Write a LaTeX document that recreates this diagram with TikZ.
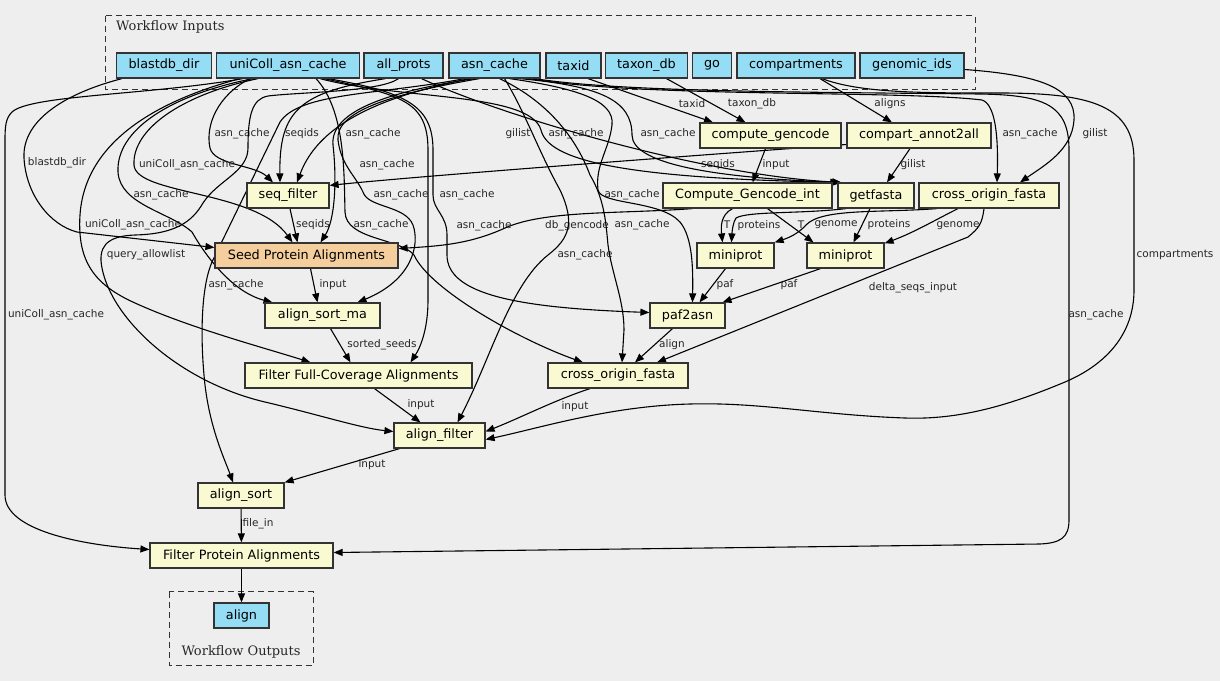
\documentclass[tikz,border=0pt]{standalone}
\usepackage{fontspec}
\setmainfont{DejaVu Sans}
\newfontfamily\titrefont{DejaVu Serif}
\usepackage{xcolor}
\usetikzlibrary{arrows.meta}
\definecolor{fond}{HTML}{EEEEEE}
\definecolor{bord}{HTML}{333333}
\definecolor{bleuEntree}{HTML}{94DDF4}
\definecolor{jauneEtape}{HTML}{FAFAD2}
\definecolor{orangeGraine}{HTML}{F4CE9C}
\pgfdeclarelayer{arriere}
\pgfsetlayers{arriere,main}
\tikzset{
Boite/.style={
 draw=bord,
 line width=1.2pt,
 minimum height=25pt,
 inner sep=2pt,
 font=\fontsize{12.8}{15}\selectfont
 },
Entree/.style={Boite, fill=bleuEntree, minimum width=#1},
Etape/.style={Boite, fill=jauneEtape, minimum width=#1},
Graine/.style={Boite, fill=orangeGraine, minimum width=#1},
Fleche/.style={
 draw=black,
 line width=1.1pt,
 -{Triangle[length=9pt,width=7pt]}
 },
Etiq/.style={
 font=\fontsize{10.5}{12}\selectfont,
 text=black!85,
 inner sep=0pt
 },
Cadre/.style={
 draw=bord,
 line width=1pt,
 dash pattern=on 6pt off 4pt
 },
Titre/.style={font=\titrefont\fontsize{13}{15}\selectfont, text=black!85, inner sep=0pt}
}

\begin{document}
\begin{tikzpicture}[x=1pt,y=-1pt]
\useasboundingbox (0,0) rectangle (1220,681);
\node[Entree=95pt] (blastdb) at (164,65.5) {blastdb\_dir};
\node[Entree=143pt] (unicoll) at (288,65.5) {uniColl\_asn\_cache};
\node[Entree=79pt] (allprots) at (403.5,65.5) {all\_prots};
\node[Entree=91pt] (asncache) at (494.5,65.5) {asn\_cache};
\node[Entree=55pt] (taxid) at (573.5,65.5) {taxid};
\node[Entree=82pt] (taxondb) at (646.5,65.5) {taxon\_db};
\node[Entree=39pt] (go) at (712,65.5) {go};
\node[Entree=118pt] (compartments) at (796,65.5) {compartments};
\node[Entree=104pt] (genomicids) at (912,65.5) {genomic\_ids};
\node[Etape=141pt] (compgencode) at (770.5,135.5) {compute\_gencode};
\node[Etape=144pt] (compart) at (919,135.5) {compart\_annot2all};
\node[Etape=82pt] (seqfilter) at (288,195.5) {seq\_filter};
\node[Etape=169pt] (gencodeint) at (747.5,195.5) {Compute\_Gencode\_int};
\node[Etape=76pt] (getfasta) at (876,195.5) {getfasta};
\node[Etape=140pt] (crossA) at (989,195.5) {cross\_origin\_fasta};
\node[Graine=183pt] (seed) at (306.5,255.5) {Seed Protein Alignments};
\node[Etape=77pt] (miniA) at (735.5,255.5) {miniprot};
\node[Etape=77pt] (miniB) at (845.5,255.5) {miniprot};
\node[Etape=115pt] (sortma) at (322.5,315.5) {align\_sort\_ma};
\node[Etape=75pt] (paf2asn) at (687.5,315.5) {paf2asn};
\node[Etape=227pt] (fullcov) at (358.5,375.5) {Filter Full-Coverage Alignments};
\node[Etape=140pt] (crossB) at (618,375.5) {cross\_origin\_fasta};
\node[Etape=91pt] (alignfilter) at (439.5,435.5) {align\_filter};
\node[Etape=86pt] (alignsort) at (241,495.5) {align\_sort};
\node[Etape=183pt] (filterprot) at (241.5,555.5) {Filter Protein Alignments};
\node[Entree=55pt] (align) at (241.5,615.5) {align};
\begin{pgfonlayer}{arriere}
\fill[fond] (0,0) rectangle (1220,681);
\draw[Cadre] (105,15.5) rectangle (975,89);
\node[Titre, anchor=west] (titreEntrees) at (116,27) {Workflow Inputs};
\draw[Cadre] (169,591.5) rectangle (313,665);
\node[Titre] (titreSorties) at (241,652) {Workflow Outputs};
\draw[Fleche] ([xshift=14.5pt]taxid.south) -- ([xshift=-57.5pt]compgencode.north) node[Etiq, at={(692,104)}] {taxid};
\draw[Fleche] ([xshift=20pt]taxondb.south) -- ([xshift=-25pt]compgencode.north) node[Etiq, at={(752,104)}] {taxon\_db};
\draw[Fleche] ([xshift=24pt]compartments.south) -- ([xshift=-27pt]compart.north) node[Etiq, at={(890,104)}] {aligns};
\draw[Fleche] ([xshift=-38pt]unicoll.south) .. controls (218,95) and (205,125) .. (210,148) .. controls (214,165) and (255,165) .. ([xshift=-15pt]seqfilter.north) node[Etiq, at={(242,134)}] {asn\_cache};
\draw[Fleche] ([xshift=-18pt]allprots.south) .. controls (300,92) and (279,110) .. ([xshift=-8pt]seqfilter.north) node[Etiq, at={(302,134)}] {seqids};
\draw[Fleche] ([xshift=-25pt]asncache.south) .. controls (390,95) and (320,120) .. ([xshift=9pt]seqfilter.north) node[Etiq, at={(373,134)}] {asn\_cache};
\draw[Fleche] ([yshift=-9pt]compart.west) .. controls (700,155) and (420,176) .. ([yshift=-3pt]seqfilter.north east) node[Etiq, at={(718,165)}] {seqids};
\draw[Fleche] ([xshift=-42pt]blastdb.south) .. controls (70,92) and (22,118) .. (24,158) .. controls (26,195) and (50,225) .. (77,232) -- ([yshift=8pt]seed.west) node[Etiq, at={(57,163)}] {blastdb\_dir};
\draw[Fleche] ([xshift=-30pt]unicoll.south) .. controls (180,95) and (132,130) .. (134,165) .. controls (136,195) and (255,190) .. ([xshift=-14pt]seed.north) node[Etiq, at={(187,165)}] {uniColl\_asn\_cache};
\draw[Fleche] ([xshift=2pt]seqfilter.south) -- ([xshift=-9pt]seed.north) node[Etiq, at={(313,225)}] {seqids};
\draw[Fleche] ([xshift=-20pt]asncache.south) .. controls (385,92) and (330,112) .. (333,145) .. controls (337,180) and (335,220) .. ([xshift=14pt]seed.north) node[Etiq, at={(387,165)}] {asn\_cache};
\draw[Fleche] ([xshift=-55pt]gencodeint.south) .. controls (620,214) and (545,210) .. (505,228) .. controls (470,244) and (440,246) .. ([yshift=7pt]seed.east) node[Etiq, at={(577,226)}] {db\_gencode};
\draw[Fleche] ([xshift=-5pt]compgencode.south) -- ([xshift=5pt]gencodeint.north) node[Etiq, at={(776,165)}] {input};
\draw[Fleche] ([xshift=-9pt]compart.south) -- ([xshift=11pt]getfasta.north) node[Etiq, at={(913,165)}] {gilist};
\draw[Fleche] ([xshift=18pt]allprots.south) .. controls (500,115) and (700,175) .. ([xshift=4pt]getfasta.north west) node[Etiq, at={(518,134)}] {gilist};
\draw[Fleche] ([xshift=32pt]unicoll.south) .. controls (400,100) and (530,92) .. (541,130) .. controls (548,160) and (620,178) .. ([xshift=2pt]getfasta.north west) node[Etiq, at={(576,134)}] {asn\_cache};
\draw[Fleche] ([xshift=25pt]asncache.south) .. controls (600,86) and (632,100) .. (632,135) .. controls (632,165) and (720,178) .. ([xshift=4pt]getfasta.north west) node[Etiq, at={(668,134)}] {asn\_cache};
\draw[Fleche] ([xshift=35pt]asncache.south) .. controls (640,98) and (900,90) .. (982,100) .. controls (998,105) and (998,150) .. ([xshift=8pt]crossA.north) node[Etiq, at={(1030,134)}] {asn\_cache};
\draw[Fleche] ([yshift=-4pt]genomicids.east) .. controls (1040,75) and (1076,88) .. (1074,120) .. controls (1072,150) and (1045,165) .. ([xshift=31pt]crossA.north) node[Etiq, at={(1095,134)}] {gilist};
\draw[Fleche] ([xshift=-15pt]gencodeint.south) .. controls (720,215) and (721,228) .. ([xshift=-13pt]miniA.north) node[Etiq, at={(727,225)}] {T};
\draw[Fleche] ([xshift=-30pt]getfasta.south) .. controls (800,214) and (748,211) .. (736,218) .. controls (733,222) and (732,232) .. ([xshift=-4pt]miniA.north) node[Etiq, at={(759,226)}] {proteins};
\draw[Fleche] ([xshift=-52pt]crossA.south) .. controls (880,213) and (822,208) .. (806,225) .. controls (798,234) and (788,238) .. (miniA.north east) node[Etiq, at={(836,225)}] {genome};
\draw[Fleche] ([xshift=20pt]gencodeint.south) -- ([xshift=-32pt]miniB.north) node[Etiq, at={(801,225)}] {T};
\draw[Fleche] ([xshift=-6pt]getfasta.south) -- ([xshift=8pt]miniB.north) node[Etiq, at={(889,225)}] {proteins};
\draw[Fleche] ([xshift=-31pt]crossA.south) .. controls (935,220) and (915,232) .. ([yshift=-1pt]miniB.north east) node[Etiq, at={(958,226)}] {genome};
\draw[Fleche] ([xshift=-5pt]crossA.south) .. controls (982,224) and (979,228) .. (968,237) -- ([xshift=39pt]crossB.north) node[Etiq, at={(913,288)}] {delta\_seqs\_input};
\draw[Fleche] ([xshift=-10pt]miniA.south) -- ([xshift=12pt]paf2asn.north) node[Etiq, at={(725,285)}] {paf};
\draw[Fleche] ([xshift=-25pt]miniB.south) -- ([xshift=35pt]paf2asn.north) node[Etiq, at={(789,285)}] {paf};
\draw[Fleche] ([xshift=-15pt]paf2asn.south) -- ([xshift=17pt]crossB.north) node[Etiq, at={(672,345)}] {align};
\draw[Fleche] ([xshift=15pt]asncache.south) .. controls (575,88) and (615,100) .. (612,125) .. controls (609,150) and (595,165) .. (598,190) .. controls (601,205) and (660,200) .. (680,222) .. controls (693,238) and (693,270) .. ([xshift=5pt]paf2asn.north) node[Etiq, at={(632,195)}] {asn\_cache};
\draw[Fleche] ([xshift=40pt]unicoll.south) .. controls (405,92) and (433,105) .. (433,150) -- (433,195) .. controls (433,210) and (447,215) .. (447,235) -- (447,255) .. controls (447,295) and (520,308) .. ([yshift=3pt]paf2asn.west) node[Etiq, at={(484,226)}] {asn\_cache};
\draw[Fleche] ([xshift=36pt]unicoll.south) .. controls (400,95) and (428,100) .. (428,150) -- (428,300) .. controls (428,330) and (420,348) .. ([xshift=52pt]fullcov.north) node[Etiq, at={(467,195)}] {asn\_cache};
\draw[Fleche] ([xshift=28pt]unicoll.south) .. controls (345,110) and (344,170) .. (345,212) .. controls (346,240) and (400,238) .. (414,255) .. controls (430,290) and (520,340) .. ([xshift=-35pt]crossB.north) node[Etiq, at={(381,225)}] {asn\_cache};
\draw[Fleche] ([xshift=-15pt]asncache.south) .. controls (390,94) and (335,112) .. (338,140) .. controls (341,165) and (355,175) .. (363,192) .. controls (368,208) and (405,205) .. (413,225) .. controls (420,245) and (412,280) .. ([xshift=35pt]sortma.north) node[Etiq, at={(401,195)}] {asn\_cache};
\draw[Fleche] ([xshift=-35pt]unicoll.south) .. controls (170,95) and (116,130) .. (118,172) .. controls (120,205) and (170,212) .. (192,232) .. controls (205,255) and (232,292) .. ([xshift=-50pt]sortma.north) node[Etiq, at={(161,195)}] {asn\_cache};
\draw[Fleche] ([xshift=-48pt]unicoll.south) .. controls (160,100) and (85,140) .. (80,215) .. controls (77,262) and (95,285) .. (135,303) .. controls (190,328) and (265,348) .. ([xshift=-48pt]fullcov.north) node[Etiq, at={(133,225)}] {uniColl\_asn\_cache};
\draw[Fleche] ([xshift=-5pt]allprots.south) .. controls (380,92) and (300,92) .. (268,96) .. controls (252,99) and (248,115) .. (248,148) .. controls (248,172) and (218,180) .. (203,203) .. controls (192,222) and (175,234) .. (135,235) .. controls (105,236) and (98,248) .. (102,268) .. controls (112,320) and (180,382) .. (265,402) .. controls (320,415) and (360,428) .. ([yshift=4pt]alignfilter.west) node[Etiq, at={(146,255)}] {query\_allowlist};
\draw[Fleche] ([xshift=-30pt]asncache.south) .. controls (380,95) and (300,92) .. (280,122) -- (212,262) .. controls (202,285) and (200,330) .. (204,375) .. controls (208,425) and (225,460) .. ([xshift=-8pt]alignsort.north) node[Etiq, at={(236,285)}] {asn\_cache};
\draw[Fleche] ([xshift=10pt]asncache.south) .. controls (525,112) and (538,150) .. (560,190) .. controls (575,222) and (570,238) .. (548,255) .. controls (510,285) and (490,360) .. ([xshift=18pt]alignfilter.north) node[Etiq, at={(585,255)}] {asn\_cache};
\draw[Fleche] ([xshift=5pt]asncache.south) .. controls (545,100) and (575,135) .. (590,175) .. controls (605,200) and (606,225) .. (608,245) .. controls (612,275) and (624,300) .. (624,330) -- ([xshift=4pt]crossB.north) node[Etiq, at={(642,225)}] {asn\_cache};
\draw[Fleche] ([xshift=4pt]seed.south) -- ([xshift=-5pt]sortma.north) node[Etiq, at={(333,285)}] {input};
\draw[Fleche] ([xshift=8pt]sortma.south) -- ([xshift=-8pt]fullcov.north) node[Etiq, at={(382,345)}] {sorted\_seeds};
\draw[Fleche] ([xshift=16pt]fullcov.south) -- ([xshift=-19pt]alignfilter.north) node[Etiq, at={(421,405)}] {input};
\draw[Fleche] ([xshift=-28pt]crossB.south) .. controls (555,400) and (520,418) .. ([yshift=4pt]alignfilter.east) node[Etiq, at={(575,407)}] {input};
\draw[Fleche] ([xshift=26pt]compartments.south) .. controls (860,93) and (920,93) .. (1000,93) .. controls (1090,93) and (1134,105) .. (1134,160) -- (1134,290) .. controls (1134,335) and (1105,365) .. (1065,382) .. controls (1010,405) and (960,420) .. (905,418) .. controls (820,415) and (760,402) .. (690,404) .. controls (610,406) and (540,428) .. ([yshift=-4pt]alignfilter.east) node[Etiq, at={(1175,255)}] {compartments};
\draw[Fleche] ([xshift=-40pt]alignfilter.south) -- (alignsort.north east) node[Etiq, at={(372,465)}] {input};
\draw[Fleche] (alignsort) -- (filterprot) node[Etiq, at={(258,524)}] {file\_in};
\draw[Fleche] ([xshift=-45pt]unicoll.south) .. controls (150,95) and (30,95) .. (12,112) .. controls (6,118) and (5,125) .. (5,140) -- (5,495) .. controls (5,530) and (80,545) .. ([yshift=6pt]filterprot.west) node[Etiq, at={(56,315)}] {uniColl\_asn\_cache};
\draw[Fleche] ([xshift=40pt]asncache.south) .. controls (620,92) and (800,92) .. (980,94) .. controls (1045,95) and (1069,105) .. (1069,150) -- (1069,520) .. controls (1069,538) and (1060,543) .. (1040,544) -- ([yshift=3pt]filterprot.east) node[Etiq, at={(1096,315)}] {asn\_cache};
\draw[Fleche] (filterprot) -- (align);
\end{pgfonlayer}
\end{tikzpicture}
\end{document}
